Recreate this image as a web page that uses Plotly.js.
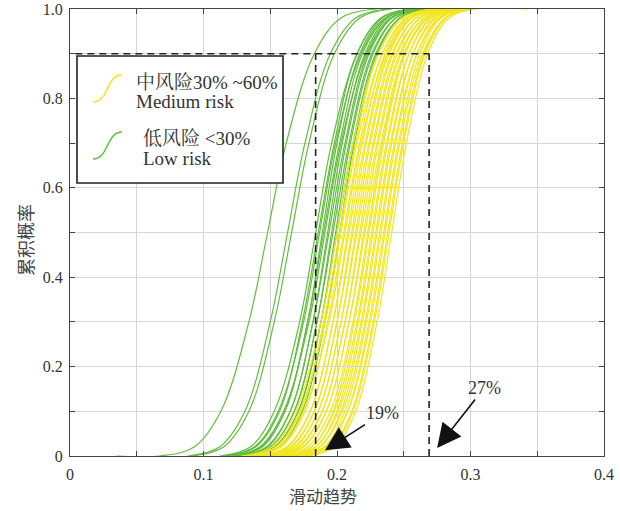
<!DOCTYPE html>
<html><head><meta charset="utf-8">
<script src="https://cdn.plot.ly/plotly-3.0.1.min.js"></script>
<style>html,body{margin:0;padding:0;background:#fff}</style>
</head><body><div id="chart" style="width:620px;height:511px"></div>
<script>
// cumulative probability levels at which each curve's x (sliding tendency) was read
const yLevels = [0, 0.02, 0.1, 0.3, 0.5, 0.7, 0.9, 0.98, 1];

// low risk (<30%) curves: x at each yLevel
const lowRisk = [
  [0.067, 0.093, 0.113, 0.134, 0.148, 0.162, 0.183, 0.203, 0.230],
  [0.088, 0.112, 0.131, 0.150, 0.163, 0.176, 0.195, 0.214, 0.238],
  [0.091, 0.115, 0.134, 0.153, 0.166, 0.179, 0.198, 0.217, 0.241],
  [0.112, 0.135, 0.153, 0.172, 0.184, 0.196, 0.215, 0.233, 0.256],
  [0.117, 0.139, 0.157, 0.174, 0.186, 0.198, 0.215, 0.233, 0.255],
  [0.115, 0.138, 0.156, 0.175, 0.187, 0.199, 0.218, 0.236, 0.259],
  [0.123, 0.144, 0.161, 0.178, 0.189, 0.200, 0.217, 0.234, 0.255],
  [0.121, 0.143, 0.161, 0.178, 0.190, 0.202, 0.219, 0.237, 0.259],
  [0.119, 0.142, 0.160, 0.179, 0.191, 0.203, 0.222, 0.240, 0.263],
  [0.127, 0.148, 0.165, 0.182, 0.193, 0.204, 0.221, 0.238, 0.259],
  [0.125, 0.147, 0.165, 0.182, 0.194, 0.206, 0.223, 0.241, 0.263],
  [0.130, 0.151, 0.168, 0.185, 0.196, 0.207, 0.224, 0.241, 0.262],
  [0.128, 0.150, 0.168, 0.185, 0.197, 0.209, 0.226, 0.244, 0.266],
  [0.133, 0.154, 0.171, 0.188, 0.199, 0.210, 0.227, 0.244, 0.265],
  [0.131, 0.153, 0.171, 0.188, 0.200, 0.212, 0.229, 0.247, 0.269],
  [0.136, 0.157, 0.174, 0.191, 0.202, 0.213, 0.230, 0.247, 0.268]
];

// medium risk (30%~60%) curves: x at each yLevel
const mediumRisk = [
  [0.128, 0.151, 0.169, 0.188, 0.200, 0.212, 0.231, 0.249, 0.272],
  [0.133, 0.155, 0.173, 0.190, 0.202, 0.214, 0.231, 0.249, 0.271],
  [0.131, 0.154, 0.172, 0.191, 0.203, 0.215, 0.234, 0.252, 0.275],
  [0.136, 0.158, 0.176, 0.193, 0.205, 0.217, 0.234, 0.252, 0.274],
  [0.134, 0.157, 0.175, 0.194, 0.206, 0.218, 0.237, 0.255, 0.278],
  [0.142, 0.163, 0.180, 0.197, 0.208, 0.219, 0.236, 0.253, 0.274],
  [0.140, 0.162, 0.180, 0.197, 0.209, 0.221, 0.238, 0.256, 0.278],
  [0.145, 0.166, 0.183, 0.200, 0.211, 0.222, 0.239, 0.256, 0.277],
  [0.143, 0.165, 0.183, 0.200, 0.212, 0.224, 0.241, 0.259, 0.281],
  [0.148, 0.169, 0.186, 0.203, 0.214, 0.225, 0.242, 0.259, 0.280],
  [0.146, 0.168, 0.186, 0.203, 0.215, 0.227, 0.244, 0.262, 0.284],
  [0.151, 0.172, 0.189, 0.206, 0.217, 0.228, 0.245, 0.262, 0.283],
  [0.149, 0.171, 0.189, 0.206, 0.218, 0.230, 0.247, 0.265, 0.287],
  [0.154, 0.175, 0.192, 0.209, 0.220, 0.231, 0.248, 0.265, 0.286],
  [0.152, 0.174, 0.192, 0.209, 0.221, 0.233, 0.250, 0.268, 0.290],
  [0.157, 0.178, 0.195, 0.212, 0.223, 0.234, 0.251, 0.268, 0.289],
  [0.161, 0.181, 0.197, 0.213, 0.224, 0.235, 0.251, 0.267, 0.287],
  [0.160, 0.181, 0.198, 0.215, 0.226, 0.237, 0.254, 0.271, 0.292],
  [0.164, 0.184, 0.200, 0.216, 0.227, 0.238, 0.254, 0.270, 0.290],
  [0.163, 0.184, 0.201, 0.218, 0.229, 0.240, 0.257, 0.274, 0.295],
  [0.167, 0.187, 0.203, 0.219, 0.230, 0.241, 0.257, 0.273, 0.293],
  [0.166, 0.187, 0.204, 0.221, 0.232, 0.243, 0.260, 0.277, 0.298],
  [0.170, 0.190, 0.206, 0.222, 0.233, 0.244, 0.260, 0.276, 0.296],
  [0.172, 0.192, 0.208, 0.224, 0.235, 0.246, 0.262, 0.278, 0.298],
  [0.170, 0.191, 0.208, 0.225, 0.236, 0.247, 0.264, 0.281, 0.302],
  [0.175, 0.195, 0.211, 0.227, 0.238, 0.249, 0.265, 0.281, 0.301],
  [0.176, 0.196, 0.212, 0.228, 0.239, 0.250, 0.266, 0.282, 0.302],
  [0.178, 0.198, 0.214, 0.230, 0.241, 0.252, 0.268, 0.284, 0.304]
];

const lowTailStart = 0.035;   // flat green tail along 0
const mediumTopEnd = 0.343;   // flat yellow tail along 1

const thresholdProb = 0.9;
const thresholdLow = 0.184;
const thresholdHigh = 0.269;
const labelLow = '19%';
const labelHigh = '27%';

const xTickVals = [0, 0.05, 0.1, 0.15, 0.2, 0.25, 0.3, 0.35, 0.4];
const xTickText = ['0', '', '0.1', '', '0.2', '', '0.3', '', '0.4'];
const yTickVals = [0, 0.1, 0.2, 0.3, 0.4, 0.5, 0.6, 0.7, 0.8, 0.9, 1.0];
const yTickText = ['0', '', '0.2', '', '0.4', '', '0.6', '', '0.8', '', '1.0'];

const xTitle = '滑动趋势';
const yTitle = '累积概率';
const legMediumCn = '中风险30% ~60%';
const legMediumEn = 'Medium risk';
const legLowCn = '低风险 <30%';
const legLowEn = 'Low risk';

const GREEN = '#62bd3f';
const YELLOW = '#f1e61c';

const traces = [];
lowRisk.forEach((xs, i) => {
  let x = xs.slice(), y = yLevels.slice();
  if (i === 0) { x.unshift(lowTailStart); y.unshift(0); }
  traces.push({x, y, type: 'scatter', mode: 'lines', hoverinfo: 'skip', showlegend: false,
    line: {color: GREEN, width: 1.2, shape: 'spline', smoothing: 1}});
});
mediumRisk.forEach((xs, i) => {
  let x = xs.slice(), y = yLevels.slice();
  if (i === mediumRisk.length - 1) { x.push(mediumTopEnd); y.push(1); }
  traces.push({x, y, type: 'scatter', mode: 'lines', hoverinfo: 'skip', showlegend: false,
    line: {color: YELLOW, width: 1.2, shape: 'spline', smoothing: 1}});
});

const SERIF = 'Liberation Serif, Noto Serif CJK SC, Noto Sans CJK SC, serif';
const CJK = 'Noto Sans CJK SC, sans-serif';
const txtColor = '#333';

const TOP = 9, BOTTOM = 456, LEFT = 70, RIGHT = 604;
function px2x(p) { return (p - LEFT) / (RIGHT - LEFT); }
function px2y(p) { return (BOTTOM - p) / (BOTTOM - TOP); }

const dash = {color: '#222', width: 1.6, dash: '7px,5px'};

const shapes = [
  {type: 'line', xref: 'x', yref: 'y', x0: 0.004, x1: thresholdHigh, y0: thresholdProb, y1: thresholdProb, line: dash, layer: 'above'},
  {type: 'line', xref: 'x', yref: 'y', x0: thresholdLow, x1: thresholdLow, y0: 0, y1: thresholdProb, line: dash, layer: 'above'},
  {type: 'line', xref: 'x', yref: 'y', x0: thresholdHigh, x1: thresholdHigh, y0: 0, y1: thresholdProb, line: dash, layer: 'above'},
  {type: 'rect', xref: 'paper', yref: 'paper', x0: px2x(77), x1: px2x(283), y0: px2y(183), y1: px2y(56),
    line: {color: '#222', width: 1.6}, fillcolor: '#fff', layer: 'above'},
  {type: 'path', xref: 'paper', yref: 'paper', layer: 'above',
    path: `M ${px2x(93)},${px2y(102)} C ${px2x(109)},${px2y(102)} ${px2x(106)},${px2y(75)} ${px2x(122)},${px2y(75)}`,
    line: {color: YELLOW, width: 1.5}},
  {type: 'path', xref: 'paper', yref: 'paper', layer: 'above',
    path: `M ${px2x(93)},${px2y(159)} C ${px2x(109)},${px2y(159)} ${px2x(106)},${px2y(132)} ${px2x(122)},${px2y(132)}`,
    line: {color: GREEN, width: 1.5}}
];

const annotations = [
  {xref: 'paper', yref: 'paper', x: px2x(134), y: px2y(82), xanchor: 'left', yanchor: 'middle', showarrow: false,
    text: legMediumCn, font: {family: SERIF, size: 19, color: txtColor}},
  {xref: 'paper', yref: 'paper', x: px2x(134), y: px2y(101), xanchor: 'left', yanchor: 'middle', showarrow: false,
    text: legMediumEn, font: {family: SERIF, size: 19, color: txtColor}},
  {xref: 'paper', yref: 'paper', x: px2x(141), y: px2y(139), xanchor: 'left', yanchor: 'middle', showarrow: false,
    text: legLowCn, font: {family: SERIF, size: 19, color: txtColor}},
  {xref: 'paper', yref: 'paper', x: px2x(141), y: px2y(159), xanchor: 'left', yanchor: 'middle', showarrow: false,
    text: legLowEn, font: {family: SERIF, size: 19, color: txtColor}},
  {xref: 'x', yref: 'y', x: 0.191, y: 0.013, text: labelLow, showarrow: true, ax: 58, ay: -37,
    arrowhead: 2, arrowsize: 3, arrowwidth: 1.6, arrowcolor: '#111', font: {family: SERIF, size: 18, color: txtColor}},
  {xref: 'x', yref: 'y', x: 0.275, y: 0.018, text: labelHigh, showarrow: true, ax: 47, ay: -60,
    arrowhead: 2, arrowsize: 3, arrowwidth: 1.6, arrowcolor: '#111', font: {family: SERIF, size: 18, color: txtColor}},
  {xref: 'paper', yref: 'paper', x: px2x(323), y: px2y(495), xanchor: 'center', yanchor: 'middle', showarrow: false,
    text: xTitle, font: {family: CJK, size: 17, color: '#444'}},
  {xref: 'paper', yref: 'paper', x: px2x(25), y: px2y(240), xanchor: 'center', yanchor: 'middle', showarrow: false,
    textangle: -90, text: yTitle, font: {family: CJK, size: 18, color: '#444'}}
];

const axisCommon = {
  showline: true, linecolor: '#444', linewidth: 1, mirror: 'ticks',
  ticks: 'inside', ticklen: 5, tickcolor: '#444', tickwidth: 1,
  showgrid: true, gridcolor: '#d6d6d6', gridwidth: 1, zeroline: false,
  tickfont: {family: SERIF, size: 16, color: txtColor}, tickmode: 'array', fixedrange: true,
  ticklabeloverflow: 'allow'
};

const layout = {
  width: 620, height: 511,
  margin: {l: LEFT, r: 620 - RIGHT, t: TOP, b: 511 - BOTTOM},
  paper_bgcolor: '#fff', plot_bgcolor: '#fff',
  showlegend: false,
  xaxis: Object.assign({}, axisCommon, {range: [0, 0.4], tickvals: xTickVals, ticktext: xTickText, ticklabelstandoff: 4}),
  yaxis: Object.assign({}, axisCommon, {range: [0, 1], tickvals: yTickVals, ticktext: yTickText, ticklabelstandoff: 3}),
  shapes, annotations
};

Plotly.newPlot('chart', traces, layout, {displayModeBar: false, staticPlot: true});
</script></body></html>
